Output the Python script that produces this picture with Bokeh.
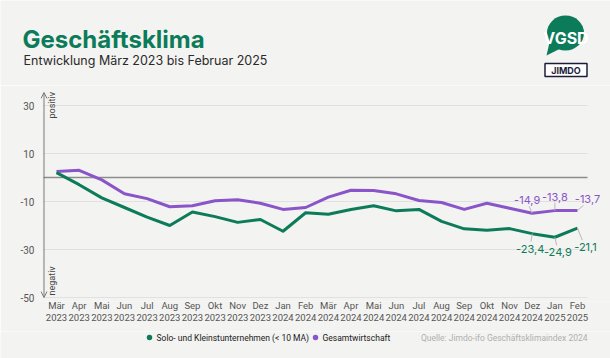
import math
from bokeh.plotting import figure
from bokeh.layouts import column
from bokeh.models import Range1d, FixedTicker, Arrow, OpenHead, Label, Plot
from bokeh.core.properties import value
from bokeh.embed import file_html
from bokeh.resources import INLINE

# ---------------- data ----------------
months = ["Mär", "Apr", "Mai", "Jun", "Jul", "Aug", "Sep", "Okt", "Nov", "Dez", "Jan", "Feb",
          "Mär", "Apr", "Mai", "Jun", "Jul", "Aug", "Sep", "Okt", "Nov", "Dez", "Jan", "Feb"]
years = ["2023"] * 10 + ["2024"] * 12 + ["2025"] * 2
klein = [2.0, -3.0, -8.5, -12.5, -16.5, -20.0, -14.4, -16.3, -18.7, -17.5, -22.4, -14.7,
         -15.3, -13.3, -11.8, -13.9, -13.3, -18.3, -21.4, -22.0, -21.3, -23.4, -24.9, -21.1]
gesamt = [2.5, 3.0, -1.0, -6.8, -8.8, -12.2, -11.8, -9.7, -9.3, -10.7, -13.3, -12.5,
          -8.2, -5.3, -5.4, -6.8, -9.6, -10.4, -13.3, -10.7, -12.8, -14.9, -13.8, -13.7]
yticks = [30, 10, -10, -30, -50]
series_names = ["Solo- und Kleinstunternehmen (< 10 MA)", "Gesamtwirtschaft"]
labelled = [21, 22, 23]

GREEN = "#0c7b5a"
PURPLE = "#8a55c8"
BG = "#f3f3f1"
FONT = "Inter"
TFONT = "Roboto"
W = 610

x = list(range(len(months)))

# reference geometry (page px) -> data, used only to place the frame and texts
X0, DXp = 56.0, 22.652
Y0, DYp = 177.0, 2.4
def sx(px):
    return (px - X0) / DXp
def sy(py):
    return (Y0 - py) / DYp

NOALIGN = {"frame_align": False} if "frame_align" in Plot.properties() else {}


def blank(height, y_top):
    f = figure(width=W, height=height, output_backend="svg", toolbar_location=None,
               x_range=Range1d(0, W), y_range=Range1d(y_top + height, y_top),
               x_axis_type=None, y_axis_type=None, min_border=0, **NOALIGN)
    f.background_fill_color = BG
    f.border_fill_color = BG
    f.outline_line_color = None
    f.grid.visible = False
    return f


# ---------------- header ----------------
HEAD_H = 85
h = blank(HEAD_H, 0)
h.text(x=[22], y=[38.5], text=["Geschäftsklima"], text_font=value(FONT), text_font_size="24px",
       text_font_style="bold", text_color=GREEN, text_baseline="middle")
h.text(x=[23], y=[60], text=["Entwicklung März 2023 bis Februar 2025"], text_font=value(FONT),
       text_font_size="12.5px", text_color="#2a2a2a", text_baseline="middle")
# VGSD bubble
h.ellipse(x=[565], y=[32.5], width=[37], height=[35], fill_color=GREEN, line_color=None)
h.patch(x=[549, 546, 562], y=[42, 55, 47], fill_color=GREEN, line_color=None)
h.text(x=[565.5], y=[37], text=["VGSD"], text_font=value(FONT), text_font_size="16px",
       text_font_style="bold", text_color="white", text_align="center", text_baseline="middle")
# JIMDO box
h.rect(x=[565.5], y=[69.5], width=[42], height=[13], fill_color="#ffffff",
       line_color="#1c1c3a", line_width=1.5)
h.text(x=[565.5], y=[70], text=["JIMDO"], text_font=value(FONT), text_font_size="9px",
       text_font_style="bold", text_color="#1c1c3a", text_align="center", text_baseline="middle")

# ---------------- main chart ----------------
FR_L, FR_T, FR_B = 40, 85, 301
MB_BOTTOM = 30
xl, xr = sx(FR_L), sx(W)
p = figure(width=W, height=(FR_B - FR_T) + MB_BOTTOM, output_backend="svg", toolbar_location=None,
           x_range=Range1d(xl, xr), y_range=Range1d(sy(FR_B), sy(FR_T)),
           min_border_left=FR_L, min_border_right=0, min_border_top=0,
           min_border_bottom=MB_BOTTOM, **NOALIGN)
p.background_fill_color = BG
p.border_fill_color = BG
p.outline_line_color = None
p.grid.visible = False

p.yaxis.ticker = FixedTicker(ticks=yticks)
p.yaxis.major_label_overrides = {t: str(t) for t in yticks}
p.yaxis.axis_line_color = None
p.yaxis.major_tick_line_color = None
p.yaxis.major_tick_out = 0
p.yaxis.minor_tick_line_color = None
p.yaxis.major_label_standoff = 6
p.yaxis.major_label_text_font = TFONT
p.yaxis.major_label_text_font_size = "10px"
p.yaxis.major_label_text_color = "#555555"

p.xaxis.ticker = FixedTicker(ticks=x)
p.xaxis.major_label_overrides = {i: f"{m}\n{y}" for i, (m, y) in enumerate(zip(months, years))}
p.xaxis.axis_line_color = None
p.xaxis.major_tick_line_color = None
p.xaxis.major_tick_out = 0
p.xaxis.minor_tick_line_color = None
p.xaxis.major_label_standoff = -2
p.xaxis.major_label_text_font = TFONT
p.xaxis.major_label_text_font_size = "9.5px"
p.xaxis.major_label_text_color = "#555555"
p.xaxis.major_label_text_line_height = 1.1

# horizontal grid + zero line (limited to the plotting band like the reference)
gx0, gx1 = sx(43), sx(587)
p.segment(x0=[gx0] * len(yticks), y0=yticks, x1=[gx1] * len(yticks), y1=yticks,
          line_color="#e1e1df", line_width=1)
p.segment(x0=[gx0], y0=[0], x1=[gx1], y1=[0], line_color="#8c8c8c", line_width=1.5)

# y axis arrow
ax = sx(43.5)
head = dict(size=6, line_color="#7a7a7a", line_width=1)
p.add_layout(Arrow(start=OpenHead(**head), end=OpenHead(**head), x_start=ax, y_start=yticks[-1],
                   x_end=ax, y_end=sy(92), line_color="#7a7a7a", line_width=1))
p.add_layout(Label(x=ax, y=sy(118), x_offset=3, text="positiv", angle=math.pi / 2,
                   text_baseline="top", text_align="left", text_font=TFONT,
                   text_font_size="9px", text_color="#444444"))
p.add_layout(Label(x=ax, y=sy(295), x_offset=3, text="negativ", angle=math.pi / 2,
                   text_baseline="top", text_align="left", text_font=TFONT,
                   text_font_size="9px", text_color="#444444"))

# series
p.line(x, gesamt, line_color=PURPLE, line_width=3, line_join="round")
p.line(x, klein, line_color=GREEN, line_width=3, line_join="round")

def fmt(v):
    return f"{v:.1f}".replace(".", ",")

pur_off = [(-5, 13), (0, 14), (10, 11)]
grn_off = [(-2, -15), (3, -15), (8, -19)]
for idx, (ox, oy) in zip(labelled, pur_off):
    p.segment(x0=[idx], y0=[gesamt[idx]], x1=[idx + ox * 0.6 / DXp], y1=[gesamt[idx] + (oy - 6) / DYp],
              line_color="#b8b8b8", line_width=1)
    p.add_layout(Label(x=idx, y=gesamt[idx], x_offset=ox, y_offset=oy, text=fmt(gesamt[idx]),
                       text_align="center", text_baseline="middle", text_font=FONT,
                       text_font_size="11px", text_color=PURPLE))
for idx, (ox, oy) in zip(labelled, grn_off):
    p.segment(x0=[idx], y0=[klein[idx]], x1=[idx + ox * 0.6 / DXp], y1=[klein[idx] + (oy + 7) / DYp],
              line_color="#b8b8b8", line_width=1)
    p.add_layout(Label(x=idx, y=klein[idx], x_offset=ox, y_offset=oy, text=fmt(klein[idx]),
                       text_align="center", text_baseline="middle", text_font=FONT,
                       text_font_size="11px", text_color=GREEN))

# ---------------- footer (legend + source) ----------------
FOOT_TOP = FR_B + MB_BOTTOM
foot = blank(358 - FOOT_TOP, FOOT_TOP)
LY = 337
for name, col, dotx in zip(series_names, [GREEN, PURPLE], [149, 315]):
    foot.scatter(x=[dotx], y=[LY], size=5.5, fill_color=col, line_color=None)
    foot.text(x=[dotx + 7], y=[LY], text=[name], text_font=value(TFONT), text_font_size="8.5px",
              text_color="#222222", text_align="left", text_baseline="middle")
foot.text(x=[587], y=[LY], text=["Quelle: Jimdo-ifo Geschäftsklimaindex 2024"],
          text_font=value(TFONT), text_font_size="8.5px", text_color="#b0b0b0",
          text_align="right", text_baseline="middle")

layout = column(h, p, foot, spacing=0)
open("out.html", "w").write(file_html(layout, INLINE))
